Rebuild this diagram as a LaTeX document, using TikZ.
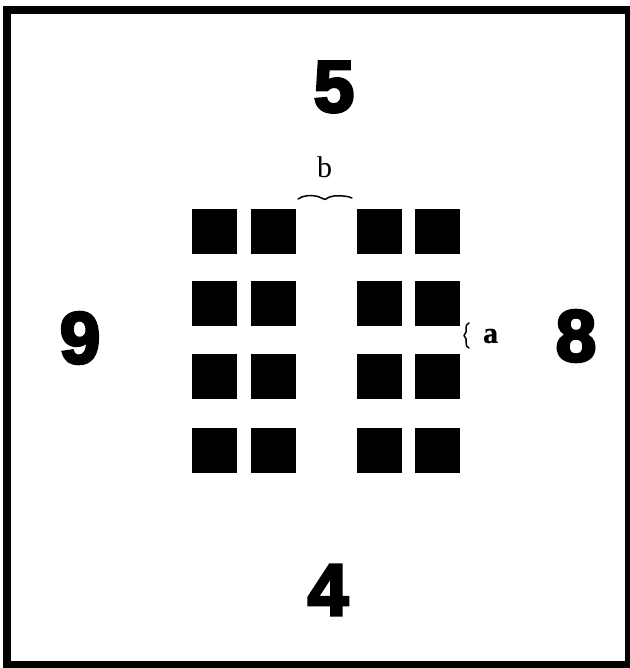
\documentclass[tikz,border=0pt]{standalone}
\usepackage{fontspec}
\newfontfamily\digitfont{Liberation Sans}[BoldFeatures={FakeBold=4}]
\newfontfamily\labelfont{Liberation Serif}[BoldFeatures={FakeBold=0.5}]
\begin{document}
\begin{tikzpicture}[x=1pt,y=-1pt,
  sq/.style={fill=black,draw=none,minimum size=45pt,inner sep=0pt,outer sep=0pt},
  digit/.style={inner sep=0pt,font=\digitfont\bfseries\fontsize{73}{73}\selectfont},
  lbl/.style={inner sep=0pt,font=\labelfont\fontsize{30}{30}\selectfont},
  bracepath/.style={line width=1.5pt,line cap=round,line join=round}]
\useasboundingbox (0,0) rectangle (629,668);
% frame
\draw[line width=7.5pt] (7,10) rectangle (629,665);
% squares
\foreach \c/\x in {1/214.5,2/273.5,3/379,4/437.5}{
  \foreach \r/\y in {1/231,2/303.5,3/376,4/450.5}{
    \node[sq] (s\c\r) at (\x,\y) {};
  }
}
% digits
\node[digit] (five) at (334,87) {5};
\node[digit] (nine) at (80,338) {9};
\node[digit] (eight) at (576,336) {8};
\node[digit] (four) at (328,590) {4};
% labels
\node[lbl] (b) at (324.5,167.5) {b};
\node[lbl,font=\labelfont\bfseries\fontsize{30}{30}\selectfont] (a) at (490.5,336) {a};
% horizontal brace under b
\draw[bracepath] (298,199) .. controls (303,195) and (312,195) .. (318,196.5)
  .. controls (321,197.5) and (323,199) .. (325,199.5)
  .. controls (327,198) and (330,196.5) .. (334,196)
  .. controls (341,195.5) and (348,196) .. (352,198);
% vertical brace next to a
\draw[bracepath] (469,323) .. controls (463,325) and (469,331) .. (464,335.5)
  .. controls (469,340) and (463,345) .. (469,348);
\end{tikzpicture}
\end{document}
